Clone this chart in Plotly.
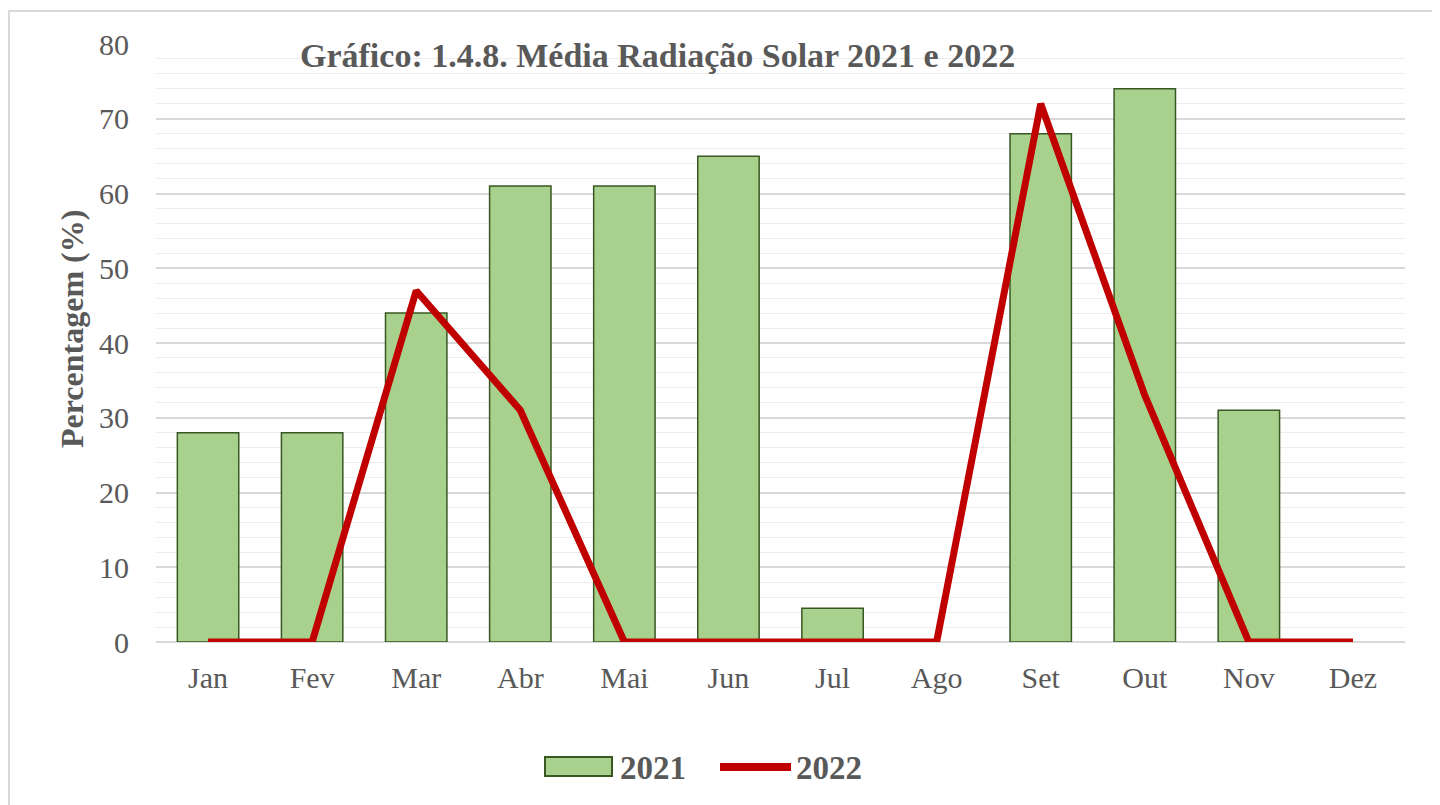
import plotly.graph_objects as go

meses = ['Jan', 'Fev', 'Mar', 'Abr', 'Mai', 'Jun', 'Jul', 'Ago', 'Set', 'Out', 'Nov', 'Dez']
v2021 = [28, 28, 44, 61, 61, 65, 4.5, 0, 68, 74, 31, 0]
v2022 = [0, 0, 47, 31, 0, 0, 0, 0, 72, 33, 0, 0]

cinza = '#595959'
verde = '#A9D18E'
verde_borda = '#385723'
vermelho = '#C00000'
fonte = 'Liberation Serif'

# a página tem 8px de margem no body, então desconto isso das posições
L, T, R, B = 148, 36, 1397, 634
W, H = R - L, B - T

def px(x):
    return (x - 8 - L) / W

def py(y):
    return (B - (y - 8)) / H

# barras com valor zero não mostram contorno
bordas = [1.5 if v > 0 else 0 for v in v2021]

fig = go.Figure()
fig.add_trace(go.Bar(x=meses, y=v2021, name='2021',
                     marker=dict(color=verde, line=dict(color=verde_borda, width=bordas)),
                     width=0.59))
fig.add_trace(go.Scatter(x=meses, y=v2022, name='2022', mode='lines',
                         line=dict(color=vermelho, width=7)))

fig.update_layout(
    width=1440, height=805,
    margin=dict(l=L, r=1440 - R, t=T, b=805 - B),
    paper_bgcolor='white', plot_bgcolor='white',
    font=dict(family=fonte, size=30, color=cinza),
    showlegend=False,
    bargap=0.41,
)
fig.update_xaxes(showline=False, ticks='', ticklabelstandoff=15,
                 tickfont=dict(size=30, color=cinza))
fig.update_yaxes(range=[0, 80], dtick=10, showgrid=True, gridcolor='#D9D9D9', gridwidth=1.5,
                 minor=dict(dtick=2, showgrid=True, gridcolor='#EDEDED', gridwidth=1),
                 zeroline=True, zerolinecolor='#D9D9D9', zerolinewidth=1.5,
                 ticks='', ticklabelstandoff=26, tickfont=dict(size=30, color=cinza))

fig.add_annotation(text='Gráfico: 1.4.8. Média Radiação Solar 2021 e 2022',
                   xref='paper', yref='paper', x=px(657), y=py(56),
                   xanchor='center', yanchor='middle', showarrow=False,
                   font=dict(size=34, color=cinza, family=fonte, weight='bold'))
fig.add_annotation(text='Percentagem (%)', textangle=-90,
                   xref='paper', yref='paper', x=px(72), y=py(329),
                   xanchor='center', yanchor='middle', showarrow=False,
                   font=dict(size=32, color=cinza, family=fonte, weight='bold'))

# legenda desenhada à mão (símbolo retangular largo como no Excel)
fig.add_shape(type='rect', xref='paper', yref='paper',
              x0=px(545), x1=px(612), y0=py(757), y1=py(776),
              fillcolor=verde, line=dict(color=verde_borda, width=2))
fig.add_shape(type='line', xref='paper', yref='paper',
              x0=px(720), x1=px(791), y0=py(767), y1=py(767),
              line=dict(color=vermelho, width=8))
for txt, x in [('2021', 618), ('2022', 794)]:
    fig.add_annotation(text=txt, xref='paper', yref='paper', x=px(x), y=py(768),
                       xanchor='left', yanchor='middle', showarrow=False,
                       font=dict(size=33, color=cinza, family=fonte, weight='bold'))

# moldura do gráfico (esquerda e topo)
fig.add_shape(type='line', xref='paper', yref='paper',
              x0=px(8), x1=px(1460), y0=py(11), y1=py(11),
              line=dict(color='#D9D9D9', width=2))
fig.add_shape(type='line', xref='paper', yref='paper',
              x0=px(9), x1=px(9), y0=py(11), y1=py(830),
              line=dict(color='#D9D9D9', width=2))

fig.write_html('out.html')
